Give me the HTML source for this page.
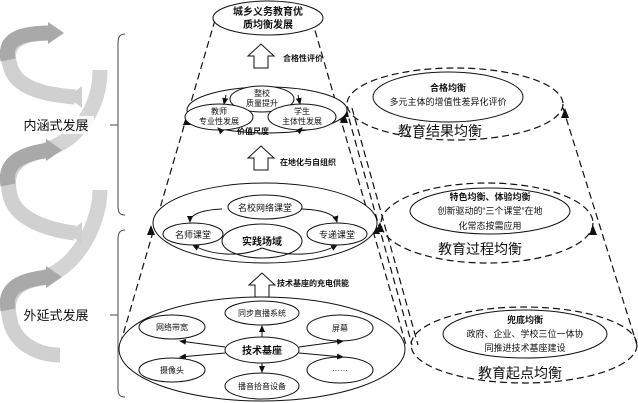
<!DOCTYPE html>
<html><head><meta charset="utf-8"><style>
body{margin:0;background:#fff;}
svg{display:block;}
text{font-family:"Liberation Sans","Noto Sans CJK SC",sans-serif;fill:#111;text-anchor:middle;}
.b{font-weight:bold;}
</style></head><body>
<svg width="638" height="403" viewBox="0 0 638 403" xmlns="http://www.w3.org/2000/svg">
<defs>
<marker id="ah" markerWidth="8" markerHeight="8" refX="6" refY="4" orient="auto" markerUnits="userSpaceOnUse"><path d="M0,1 L7,4 L0,7 Z" fill="#111"/></marker>
<marker id="bh" markerWidth="12" markerHeight="12" refX="10" refY="5" orient="auto" markerUnits="userSpaceOnUse"><path d="M0,0 L11,5 L0,10 Z" fill="#111"/></marker>
</defs>
<!-- spiral -->
<g fill="none" stroke-width="15">
<path d="M100,70 C100,105 80,140 45,150" stroke="#d4d4d4"/>
<path d="M100,190 C100,220 80,265 45,277" stroke="#d4d4d4"/>
<path d="M50,33 C10,33 5,50 10,65 C15,90 50,95 75,97" stroke="#d0d0d0"/>
<path d="M50,33 C10,33 5,45 8,60" stroke="#a9a9a9"/>
<path d="M50,150 C10,155 5,175 10,195 C15,220 50,230 75,233" stroke="#d0d0d0"/>
<path d="M50,150 C10,155 5,170 8,185" stroke="#a9a9a9"/>
<path d="M50,277 C10,280 5,300 10,320 C15,345 40,355 60,355" stroke="#d0d0d0"/>
<path d="M50,277 C10,280 5,295 8,310" stroke="#a9a9a9"/>
</g>
<g fill="#a9a9a9"><path d="M48,22 L64,33 L48,44 Z"/><path d="M46,139 L62,150 L46,161 Z"/><path d="M46,266 L62,277 L46,288 Z"/></g>
<g fill="#d0d0d0"><path d="M82,86 L68,97 L82,108 Z"/><path d="M82,222 L68,233 L82,244 Z"/></g>
<rect x="18" y="116" width="76" height="18" fill="#fff" opacity="0.85"/>
<rect x="18" y="306" width="76" height="18" fill="#fff" opacity="0.85"/>
<text x="56" y="130" font-size="13">内涵式发展</text>
<text x="56" y="320" font-size="13">外延式发展</text>
<!-- brackets -->
<g fill="none" stroke="#444" stroke-width="1">
<path d="M125,34 C119,34 118,38 118,44 L118,205 C118,212 119,215 125,215 M110,125 L118,125"/>
<path d="M125,230 C119,230 118,234 118,240 L118,388 C118,394 119,397 125,397 M110,315 L118,315"/>
</g>
<!-- cone dashed -->
<g stroke="#111" stroke-width="1.2" stroke-dasharray="7,4" fill="none">
<line x1="215" y1="20" x2="120" y2="345"/>
<line x1="312" y1="20" x2="406" y2="345"/>
<line x1="346" y1="108" x2="412" y2="345"/>
<line x1="352" y1="108" x2="418" y2="345"/>
<line x1="563" y1="108" x2="637" y2="345"/>
<ellipse cx="455" cy="104" rx="108" ry="36"/>
<ellipse cx="487" cy="223" rx="106" ry="40"/>
<ellipse cx="524" cy="345" rx="113" ry="38"/>
</g>
<g fill="#111">
<path d="M187,115 l-4,10 l8,0 Z"/><path d="M151,225 l-4,10 l8,0 Z"/>
<path d="M345,107 l-4,10 l8,0 Z"/><path d="M380,222 l-4,10 l8,0 Z"/><path d="M376,224 l-4,10 l8,0 Z"/>
<path d="M565,108 l-4,10 l8,0 Z"/><path d="M593,225 l-4,10 l8,0 Z"/><path d="M344,113 l-4,10 l8,0 Z"/>
</g>
<g fill="#fff" stroke="#111" stroke-width="1">
<ellipse cx="268" cy="18" rx="55" ry="17"/>
<ellipse cx="267" cy="110" rx="80" ry="23"/>
<ellipse cx="265" cy="223" rx="112" ry="40"/>
<ellipse cx="262" cy="349" rx="143" ry="52"/>
<!-- block arrows -->
<path d="M254,68 L254,56 L248,56 L261,44 L274,56 L268,56 L268,68 Z"/>
<path d="M254,170 L254,158 L248,158 L261,146 L274,158 L268,158 L268,170 Z"/>
<path d="M255,297 L255,285 L249,285 L262,273 L275,285 L269,285 L269,297 Z"/>
<!-- ellipse 2 inner -->
<ellipse cx="262" cy="99" rx="32" ry="13"/>
<ellipse cx="219" cy="117" rx="34" ry="13"/>
<ellipse cx="302" cy="117" rx="34" ry="13"/>
<!-- ellipse 3 inner -->
<ellipse cx="265" cy="207" rx="37" ry="12"/>
<ellipse cx="193" cy="234" rx="30" ry="11"/>
<ellipse cx="337" cy="234" rx="30" ry="11"/>
<ellipse cx="262" cy="241" rx="40" ry="17"/>
<!-- ellipse 4 inner -->
<ellipse cx="262" cy="313" rx="37" ry="12"/>
<ellipse cx="172" cy="327" rx="33" ry="12"/>
<ellipse cx="340" cy="328" rx="33" ry="13"/>
<ellipse cx="262" cy="350" rx="37" ry="13"/>
<ellipse cx="172" cy="370" rx="33" ry="12"/>
<ellipse cx="340" cy="370" rx="33" ry="13"/>
<ellipse cx="262" cy="386" rx="37" ry="13"/>
<!-- right solid -->
<ellipse cx="448" cy="97" rx="75" ry="25"/>
<ellipse cx="490" cy="211" rx="80" ry="23"/>
<ellipse cx="525" cy="334" rx="82" ry="24"/>
</g>
<!-- small connectors -->
<g stroke="#111" stroke-width="1" fill="none" marker-end="url(#ah)">
<path d="M226,95 L224,104"/><path d="M298,95 L300,104"/>
<path d="M220,130 L218,128"/><path d="M300,130 L302,128"/>
<path d="M222,209 C200,210 190,215 190,222"/><path d="M302,209 C325,210 335,215 337,222"/>
<path d="M262,248 C240,258 210,255 193,245"/><path d="M262,248 C290,258 320,255 337,245"/>
<path d="M262,337 L262,326"/><path d="M262,363 L262,372"/>
<path d="M225,347 L180,341"/><path d="M225,353 L180,357"/>
<path d="M299,347 L343,341"/><path d="M299,353 L343,357"/>
</g>
<!-- texts -->
<g font-size="9">
<text x="268" y="15" class="b" font-size="10">城乡义务教育优</text>
<text x="268" y="28" class="b" font-size="10">质均衡发展</text>
<text x="303" y="61" class="b" font-size="8">合格性评价</text>
<text x="262" y="96" font-size="8">整校</text><text x="262" y="106" font-size="8">质量提升</text>
<text x="219" y="114" font-size="8">教师</text><text x="219" y="124" font-size="8">专业性发展</text>
<text x="302" y="114" font-size="8">学生</text><text x="302" y="124" font-size="8">主体性发展</text>
<text x="253" y="134" class="b" font-size="8">价值尺度</text>
<text x="308" y="165" class="b" font-size="8">在地化与自组织</text>
<text x="265" y="211">名校网络课堂</text>
<text x="193" y="238">名师课堂</text>
<text x="337" y="238">专递课堂</text>
<text x="262" y="245" class="b" font-size="10">实践场域</text>
<text x="313" y="286" class="b" font-size="8">技术基座的充电供能</text>
<text x="262" y="316" font-size="8">同步直播系统</text>
<text x="172" y="330" font-size="8">网络带宽</text>
<text x="340" y="331" font-size="8">屏幕</text>
<text x="262" y="354" class="b" font-size="10">技术基座</text>
<text x="172" y="373" font-size="8">摄像头</text>
<text x="340" y="373" font-size="8">······</text>
<text x="262" y="389" font-size="8">播音拾音设备</text>
<text x="448" y="91" class="b">合格均衡</text>
<text x="448" y="105">多元主体的增值性差异化评价</text>
<text x="440" y="136" font-size="14">教育结果均衡</text>
<text x="490" y="200" class="b">特色均衡、体验均衡</text>
<text x="490" y="214">创新驱动的“三个课堂”在地</text>
<text x="490" y="229">化常态按需应用</text>
<text x="480" y="254" font-size="14">教育过程均衡</text>
<text x="525" y="323" class="b">兜底均衡</text>
<text x="525" y="337">政府、企业、学校三位一体协</text>
<text x="525" y="351">同推进技术基座建设</text>
<text x="520" y="378" font-size="14">教育起点均衡</text>
</g>
</svg>
</body></html>
